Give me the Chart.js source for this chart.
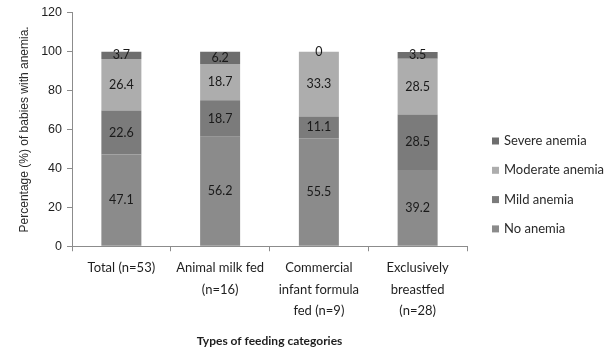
<!DOCTYPE html>
<html>
<head>
<meta charset="utf-8">
<script src="https://cdn.jsdelivr.net/npm/chart.js@4"></script>
<style>
  html, body { margin: 0; padding: 0; background: #fff; }
  #wrap { width: 609px; height: 350px; }
</style>
</head>
<body>
<div id="wrap"><canvas id="c" width="609" height="350"></canvas></div>
<script>
// Feeding categories (multi-line axis labels)
const categories = [
  ["Total (n=53)"],
  ["Animal milk fed", "(n=16)"],
  ["Commercial", "infant formula", "fed (n=9)"],
  ["Exclusively", "breastfed", "(n=28)"]
];

// Share of babies (%) in each anemia group, per feeding category
const noAnemia       = [47.1, 56.2, 55.5, 39.2];
const mildAnemia     = [22.6, 18.7, 11.1, 28.5];
const moderateAnemia = [26.4, 18.7, 33.3, 28.5];
const severeAnemia   = [3.7, 6.2, 0, 3.5];

const yTicks = [0, 20, 40, 60, 80, 100, 120];

const FONT = "Lato, 'Open Sans', sans-serif";

// Writes each segment's value in the middle of its bar piece
const segmentLabels = {
  id: 'segmentLabels',
  afterDatasetsDraw(chart) {
    const ctx = chart.ctx;
    ctx.save();
    ctx.font = "12.5px " + FONT;
    ctx.fillStyle = "#1a1a1a";
    ctx.textAlign = "center";
    ctx.textBaseline = "middle";
    chart.data.datasets.forEach((ds, di) => {
      const meta = chart.getDatasetMeta(di);
      meta.data.forEach((bar, i) => {
        const p = bar.getProps(['x', 'y', 'base'], true);
        const v = ds.data[i];
        ctx.fillText(String(v), p.x, (p.y + p.base) / 2);
      });
    });
    ctx.restore();
  }
};

// Legend drawn at the right, top entry = last stacked series
const sideLegend = {
  id: 'sideLegend',
  afterDraw(chart) {
    const ctx = chart.ctx;
    const ds = chart.data.datasets.slice().reverse();
    const x0 = 492, y0 = 141, step = 29.3;
    ctx.save();
    ctx.font = "13px " + FONT;
    ctx.textBaseline = "middle";
    ctx.textAlign = "left";
    ds.forEach((d, k) => {
      const y = y0 + k * step;
      ctx.fillStyle = d.backgroundColor;
      ctx.fillRect(x0, y - 3.5, 7, 7);
      ctx.fillStyle = "#2a2a2a";
      ctx.fillText(d.label, x0 + 12, y);
    });
    ctx.restore();
  }
};

new Chart(document.getElementById('c'), {
  type: 'bar',
  data: {
    labels: categories,
    datasets: [
      { label: "No anemia",       data: noAnemia,       backgroundColor: "#8b8b8b" },
      { label: "Mild anemia",     data: mildAnemia,     backgroundColor: "#7b7b7b" },
      { label: "Moderate anemia", data: moderateAnemia, backgroundColor: "#adadad" },
      { label: "Severe anemia",   data: severeAnemia,   backgroundColor: "#6e6e6e" }
    ]
  },
  options: {
    responsive: false,
    animation: false,
    devicePixelRatio: 1,
    layout: { padding: { left: 0, right: 142, top: 9, bottom: 2 } },
    datasets: { bar: { categoryPercentage: 0.81, barPercentage: 0.5, borderWidth: 0 } },
    plugins: {
      legend: { display: false },
      tooltip: { enabled: false }
    },
    scales: {
      x: {
        stacked: true,
        border: { color: "#8c8c8c", width: 1 },
        grid: { drawOnChartArea: false, drawTicks: true, tickLength: 5, color: "#8c8c8c" },
        ticks: {
          color: "#1e1e1e",
          font: { family: FONT, size: 13, lineHeight: 1.65 },
          padding: 6,
          maxRotation: 0,
          autoSkip: false
        },
        title: {
          display: true,
          text: "Types of feeding categories",
          color: "#1e1e1e",
          font: { family: FONT, size: 12, weight: "bold" },
          padding: { top: 6, bottom: 0 }
        }
      },
      y: {
        stacked: true,
        min: 0,
        max: 120,
        afterBuildTicks: s => { s.ticks = yTicks.map(v => ({ value: v })); },
        afterFit: s => { s.width = 72; },
        border: { color: "#8c8c8c", width: 1 },
        grid: { drawOnChartArea: false, drawTicks: true, tickLength: 5, color: "#8c8c8c" },
        ticks: {
          color: "#1e1e1e",
          font: { family: "'Liberation Sans', Arial, sans-serif", size: 12.5 },
          padding: 5
        },
        title: {
          display: true,
          text: "Percentage (%) of babies with anemia.",
          color: "#2a2a2a",
          font: { family: "'Liberation Sans', Arial, sans-serif", size: 12 },
          padding: { top: 17, bottom: 0 }
        }
      }
    }
  },
  plugins: [segmentLabels, sideLegend]
});
</script>
</body>
</html>
